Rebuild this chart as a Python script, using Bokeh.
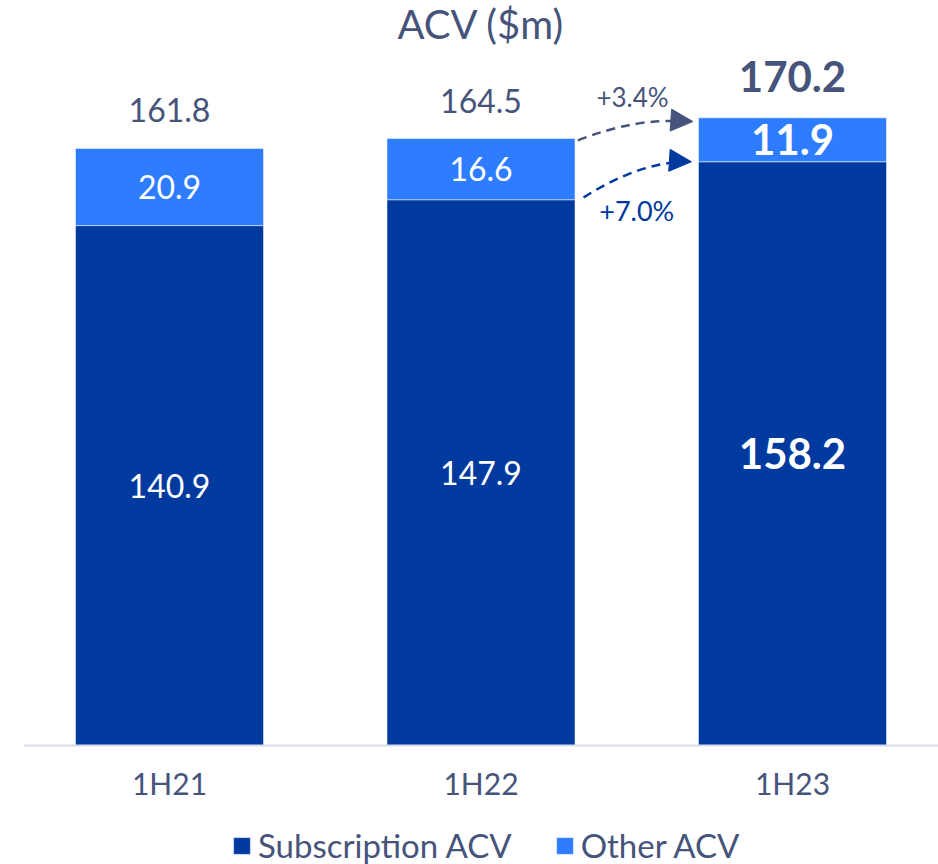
from bokeh.plotting import figure
from bokeh.models import ColumnDataSource, FactorRange, Range1d, Arrow, NormalHead, Legend, Label
from bokeh.core.properties import value
from bokeh.embed import file_html
from bokeh.resources import INLINE

# ---- data ----
periods = ["1H21", "1H22", "1H23"]
subscription = [140.9, 147.9, 158.2]
other = [20.9, 16.6, 11.9]
totals = [161.8, 164.5, 170.2]
series_names = ["Subscription ACV", "Other ACV"]
growth_total = "+3.4%"
growth_sub = "+7.0%"
title_text = "ACV ($m)"

# ---- style ----
DARK = "#003A9F"
LIGHT = "#2E7CFF"
GREY = "#46547B"
AXIS = "#D6DBE9"
FONT = "Lato"
BAR_W = 0.664
FPAD = 0.1
Y_TOP = 201.9

x_range = FactorRange(*periods, factor_padding=FPAD, range_padding=0.00975)
p = figure(width=938, height=864, x_range=x_range, y_range=Range1d(-32.25, Y_TOP),
           output_backend="svg", toolbar_location=None,
           min_border_left=23, min_border_right=0, min_border_top=0,
           min_border_bottom=0)

p.outline_line_color = None
p.xgrid.grid_line_color = None
p.ygrid.grid_line_color = None
p.yaxis.visible = False
p.xaxis.fixed_location = 0
p.xaxis.axis_line_color = AXIS
p.xaxis.axis_line_width = 2
p.xaxis.major_tick_line_color = None
p.xaxis.minor_tick_line_color = None
p.xaxis.major_label_text_font = FONT
p.xaxis.major_label_text_font_size = "30px"
p.xaxis.major_label_text_color = GREY
p.xaxis.major_label_standoff = 14

src = ColumnDataSource(dict(period=periods, subscription=subscription, other=other))
rs = p.vbar_stack(["subscription", "other"], x="period", width=BAR_W,
                  color=[DARK, LIGHT], line_color="white", line_alpha=0.5,
                  line_width=1, source=src)

legend = Legend(items=[(series_names[0], [rs[0]]), (series_names[1], [rs[1]])],
                orientation="horizontal", location=(208, -1))
legend.label_text_font = FONT
legend.label_text_font_size = "33px"
legend.label_text_color = GREY
legend.glyph_width = 21
legend.glyph_height = 21
legend.spacing = 42
legend.label_standoff = 6
legend.padding = 0
legend.margin = 0
legend.border_line_color = None
legend.background_fill_alpha = 0
p.add_layout(legend)

# ---- chart title ----
centers = [0.5 + i * (1 + FPAD) for i in range(len(periods))]
p.add_layout(Label(x=centers[1], y=Y_TOP, y_offset=-23, text=title_text,
                   text_align="center", text_baseline="middle", text_color=GREY,
                   text_font=FONT, text_font_size="40px"))

# ---- value labels ----
sub_mid = [s / 2 for s in subscription]
oth_mid = [s + o / 2 for s, o in zip(subscription, other)]
fmt = lambda v: f"{v:.1f}"

n = 2  # regular-weight bars
p.text(x=periods[:n] * 2, y=sub_mid[:n] + oth_mid[:n],
       text=[fmt(v) for v in subscription[:n] + other[:n]],
       text_align="center", text_baseline="middle", text_color="white",
       text_font=value(FONT), text_font_size="32px")
p.text(x=periods[:n], y=totals[:n], text=[fmt(v) for v in totals[:n]],
       y_offset=-38, text_align="center", text_baseline="middle", text_color=GREY,
       text_font=value(FONT), text_font_size="32px")
p.text(x=periods[n:] * 2, y=sub_mid[n:] + oth_mid[n:],
       text=[fmt(v) for v in subscription[n:] + other[n:]],
       text_align="center", text_baseline="middle", text_color="white",
       text_font=value(FONT), text_font_size="42px", text_font_style="bold")
p.text(x=periods[n:], y=totals[n:], text=[fmt(v) for v in totals[n:]],
       y_offset=-41, text_align="center", text_baseline="middle", text_color=GREY,
       text_font=value(FONT), text_font_size="42px", text_font_style="bold")

# ---- growth arrows (synthetic x coordinates of the factor range) ----
b2_right = centers[1] + BAR_W / 2
b3_left = centers[2] - BAR_W / 2
gap_mid = (b2_right + b3_left) / 2

arrows = [
    (b2_right + 0.01, totals[1] - 0.5, b3_left - 0.02, totals[2] - 1.1, totals[2], GREY),
    (b2_right + 0.03, subscription[1] + 0.6, b3_left - 0.025, subscription[2], subscription[2] - 0.5, DARK),
]
for x0, y0, x1, y1, cy, col in arrows:
    p.quadratic(x0=[x0], y0=[y0], x1=[x1 - 0.03], y1=[y1], cx=[gap_mid], cy=[cy],
                line_color=col, line_width=2.5, line_dash="9 6")
    p.add_layout(Arrow(end=NormalHead(size=22, fill_color=col, line_color=col),
                       x_start=x1 - 0.06, y_start=y1 + 0.3, x_end=x1, y_end=y1,
                       line_alpha=0))

p.text(x=[gap_mid - 0.015], y=[totals[2]], text=[growth_total], y_offset=-20,
       text_align="center", text_baseline="middle", text_color=GREY,
       text_font=value(FONT), text_font_size="26px")
p.text(x=[gap_mid], y=[subscription[1]], text=[growth_sub], y_offset=11,
       text_align="center", text_baseline="middle", text_color=DARK,
       text_font=value(FONT), text_font_size="27px")

open("out.html", "w").write(file_html(p, INLINE))
